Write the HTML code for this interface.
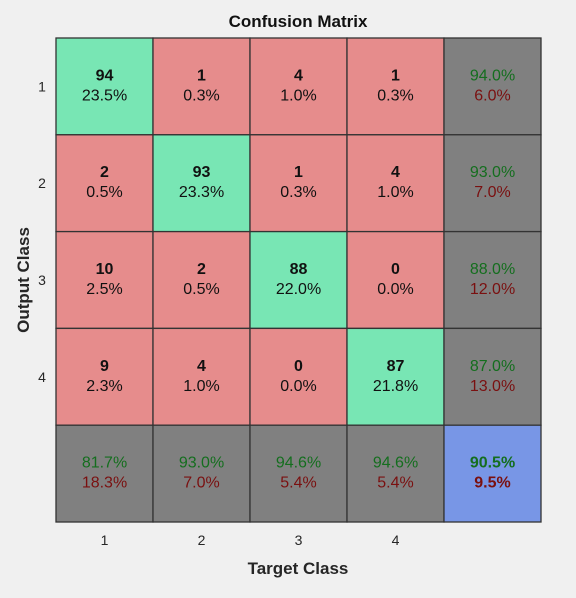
<!DOCTYPE html>
<html><head><meta charset="utf-8"><style>
html,body{margin:0;padding:0;background:#f0f0f0;}
svg text{font-family:"Liberation Sans",sans-serif;}
</style></head><body>
<svg id="chart" width="576" height="593" font-family="Liberation Sans, sans-serif">
<rect width="576" height="593" fill="#f0f0f0"/>
<text x="298" y="27" text-anchor="middle" font-size="17" font-weight="bold" fill="#111" font-family="Liberation Sans">Confusion Matrix</text>
<text x="298" y="574" text-anchor="middle" font-size="17" font-weight="bold" fill="#262626" font-family="Liberation Sans">Target Class</text>
<text transform="translate(29,280) rotate(-90)" text-anchor="middle" font-size="17" font-weight="bold" fill="#262626" font-family="Liberation Sans">Output Class</text>
<g id="cells"></g>
</svg>
<script>
const classLabels = ["1","2","3","4"];
const row1 = [94, 1, 4, 1];
const row2 = [2, 93, 1, 4];
const row3 = [10, 2, 88, 0];
const row4 = [9, 4, 0, 87];
const counts = [row1,row2,row3,row4];

const NS="http://www.w3.org/2000/svg";
const g=document.getElementById('cells');
const x0=56,y0=38,cw=97,ch=96.8;
const n=classLabels.length;
const total=counts.flat().reduce((a,b)=>a+b,0);
const xPos=i=>x0+i*cw, yPos=j=>y0+j*ch;
function pct(v){return (v*100).toFixed(1)+'%';}
function mk(tag,attrs,parent){const e=document.createElementNS(NS,tag);for(const k in attrs)e.setAttribute(k,attrs[k]);(parent||g).appendChild(e);return e;}
function txt(x,y,s,opts){const t=mk('text',Object.assign({x:x,y:y,'text-anchor':'middle','font-size':16,'font-family':'Liberation Sans'},opts));t.textContent=s;return t;}
function cell(i,j,fill,name){const r=mk('rect',{x:xPos(i),y:yPos(j),width:cw,height:ch,fill:fill,stroke:'#333',"stroke-width":1.3});


return r;}
for(let r=0;r<n;r++){for(let c=0;c<n;c++){
  const v=counts[r][c];
  cell(c,r,r===c?'#78e6b4':'#e68c8c','cell-'+(r+1)+'-'+(c+1));
  const cx=xPos(c)+cw/2, cy=yPos(r)+ch/2;
  const a=txt(cx,cy-6,String(v),{'font-weight':'bold',fill:'#111'});
  
  
  const b=txt(cx,cy+14,pct(v/total),{fill:'#111'});
  
  
}}
function statCell(i,j,good,bad,bold,fill,name){
  cell(i,j,fill,name);
  const cx=xPos(i)+cw/2, cy=yPos(j)+ch/2;
  const o=bold?{'font-weight':'bold'}:{};
  const a=txt(cx,cy-6,pct(good),Object.assign({fill:'#146e1e'},o));
  
  
  const b=txt(cx,cy+14,pct(bad),Object.assign({fill:'#7a1010'},o));
  
  
}
for(let r=0;r<n;r++){const s=counts[r].reduce((a,b)=>a+b,0);const p=counts[r][r]/s;statCell(n,r,p,1-p,false,'#808080','row-summary-'+(r+1));}
for(let c=0;c<n;c++){let s=0;for(let r=0;r<n;r++)s+=counts[r][c];const p=counts[c][c]/s;statCell(c,n,p,1-p,false,'#808080','col-summary-'+(c+1));}
let diag=0;for(let k=0;k<n;k++)diag+=counts[k][k];
statCell(n,n,diag/total,1-diag/total,true,'#7896e6','overall-accuracy');
for(let k=0;k<n;k++){
  const a=txt(xPos(k)+cw/2,545,classLabels[k],{'font-size':14,fill:'#262626'});
  
  
  const b=txt(42,yPos(k)+ch/2+5,classLabels[k],{'font-size':14,fill:'#262626'});
  
  
}
</script>
</body></html>
